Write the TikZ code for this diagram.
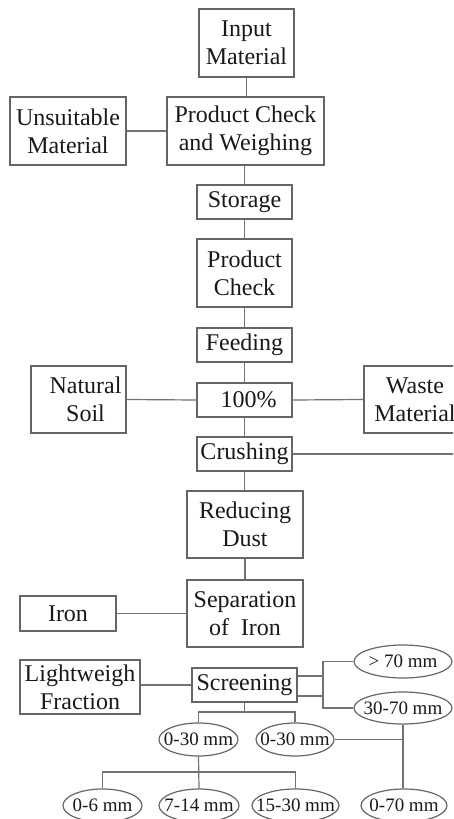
\documentclass[tikz,border=0pt]{standalone}
\usepackage{fontspec}
\setmainfont{Liberation Serif}
\usetikzlibrary{shapes.geometric}
\newcommand\ovtxt[1]{\raisebox{-0.33em}[0pt][0pt]{\makebox[0pt]{#1}}}
\begin{document}
\begin{tikzpicture}[x=1pt,y=-1pt,
  line width=1.2pt,
  box/.style={draw=black!60,rectangle,inner sep=0pt,align=center,
    font=\fontsize{24}{28}\selectfont,text=black!90},
  oval/.style={draw=black!60,ellipse,inner sep=0pt,
    font=\fontsize{19}{22}\selectfont,text=black!90},
  link/.style={draw=black!55,line width=1.2pt}]
\useasboundingbox (0,0) rectangle (453,819);
\clip (0,0) rectangle (453,819);
% main column
\node[box,minimum width=95pt,minimum height=68pt] (in) at (246.5,43) {Input\\Material};
\node[box,minimum width=157pt,minimum height=68pt] (pcw) at (245.5,131) {Product Check\\and Weighing};
\node[box,minimum width=116pt,minimum height=68pt] (uns) at (68,131) {Unsuitable\\Material};
\node[box,minimum width=95pt,minimum height=34pt] (sto) at (244.5,202) {Storage};
\node[box,minimum width=95pt,minimum height=68pt] (pc) at (244.5,273) {Product\\Check};
\node[box,minimum width=95pt,minimum height=34pt] (fee) at (244.5,345) {Feeding};
\node[box,minimum width=95pt,minimum height=34pt] (pct) at (244.5,400) {\hspace*{8pt}100\%};
\node[box,minimum width=95pt,minimum height=67pt] (nat) at (78.5,399.5) {\hspace*{14pt}Natural\\\hspace*{14pt}Soil};
\node[box,minimum width=102pt,minimum height=67pt] (was) at (415,399.5) {Waste\\Material};
\node[box,minimum width=95pt,minimum height=34pt] (cru) at (244.5,454) {Crushing};
\coordinate (cruend) at (460,454);
\node[box,minimum width=116pt,minimum height=67pt] (red) at (245,524.5) {Reducing\\Dust};
\node[box,minimum width=116pt,minimum height=67pt] (sep) at (245,613.5) {Separation\\of\ \ Iron};
\node[box,minimum width=96pt,minimum height=35pt] (iron) at (68,613.5) {Iron};
\node[box,minimum width=120pt,minimum height=54pt] (lig) at (80,687) {Lightweigh\\Fraction};
\node[box,minimum width=105pt,minimum height=34pt] (scr) at (244.5,685) {Screening};
% ellipses
\node[oval,minimum width=98pt,minimum height=33pt] (e70) at (403,661.5) {\ovtxt{> 70 mm}};
\node[oval,minimum width=98pt,minimum height=32pt] (e3070) at (403,708) {\ovtxt{30-70 mm}};
\node[oval,minimum width=79pt,minimum height=33pt] (ea) at (198.5,739.5) {\ovtxt{0-30 mm}};
\node[oval,minimum width=78pt,minimum height=33pt] (eb) at (295,739.5) {\ovtxt{0-30 mm}};
\node[oval,minimum width=79pt,minimum height=33pt] (e06) at (102.5,805.5) {\ovtxt{0-6 mm}};
\node[oval,minimum width=80pt,minimum height=33pt] (e714) at (199,805.5) {\ovtxt{7-14 mm}};
\node[oval,minimum width=87pt,minimum height=33pt] (e1530) at (295.5,805.5) {\ovtxt{15-30 mm}};
\node[oval,minimum width=86pt,minimum height=33pt] (e070) at (404,805.5) {\ovtxt{0-70 mm}};
% connectors
\draw[link] (in.south) -- (in.south |- pcw.north);
\draw[link] (uns.east) -- (pcw.west);
\draw[link] (pcw.south -| sto.north) -- (sto.north);
\draw[link] (sto.south) -- (pc.north);
\draw[link] (pc.south) -- (fee.north);
\draw[link] (fee.south) -- (pct.north);
\draw[link] (nat.east) -- (pct.west);
\draw[link] (pct.east) -- (was.west);
\draw[link] (pct.south) -- (cru.north);
\draw[link] (cru.east) -- (cruend);
\draw[link] (cru.south) -- (cru.south |- red.north);
\draw[link] (red.south) -- (sep.north);
\draw[link] (iron.east) -- (sep.west);
\draw[link] (lig.east |- scr.west) -- (scr.west);
\draw[link] ([yshift=-11pt]scr.east) -| (323,661.5) -- (e70.west);
\draw[link] ([yshift=9pt]scr.east) -| (323,708) -- (e3070.west);
\draw[link] (scr.south) -- (244.5,712) -| (ea.north);
\draw[link] (244.5,712) -| (eb.north);
\draw[link] (eb.east) -- (403,739.5);
\draw[link] (e3070.south) -- (e3070.south |- e070.north);
\draw[link] (ea.south) -- (e714.north);
\draw[link] (199,772) -| (e06.north);
\draw[link] (199,772) -| (e1530.north);
\end{tikzpicture}
\end{document}
